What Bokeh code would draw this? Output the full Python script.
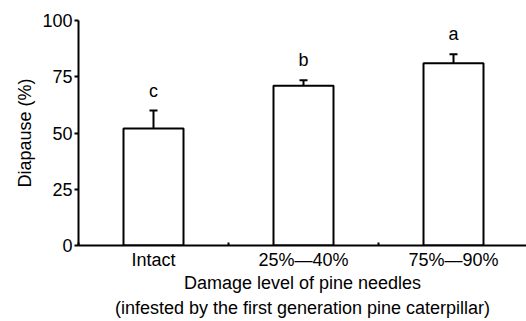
from bokeh.plotting import figure
from bokeh.models import ColumnDataSource, Range1d, FixedTicker, Whisker, TeeHead
from bokeh.core.properties import value
from bokeh.embed import file_html
from bokeh.resources import INLINE

categories = ["Intact", "25%\u201440%", "75%\u201490%"]
diapause = [52, 71, 81]
errors = [8, 2.5, 4]
letters = ["c", "b", "a"]
y_ticks = [0, 25, 50, 75, 100]
x_title = ["Damage level of pine needles",
           "(infested by the first generation pine caterpillar)"]
y_title = "Diapause (%)"

FONT = "Liberation Sans"
FS = "18px"

xs = [i + 0.5 for i in range(len(categories))]
tops = [v + e for v, e in zip(diapause, errors)]
src = ColumnDataSource(dict(x=xs, y=diapause, upper=tops, letter=letters,
                            ly=[t + 8.8 for t in tops]))

p = figure(width=526, height=321, output_backend="svg", toolbar_location=None,
           x_range=Range1d(0, 448 / 150), y_range=Range1d(0, 100),
           min_border_left=78, min_border_right=0, min_border_top=20, min_border_bottom=76)
p.outline_line_color = None
p.xgrid.visible = False
p.ygrid.visible = False
p.background_fill_color = "white"
p.border_fill_color = "white"

p.vbar(x="x", top="y", bottom=0, width=0.4, source=src, fill_color="white",
       line_color="black", line_width=2)

w = Whisker(base="x", lower="y", upper="upper", source=src, line_color="black",
            line_width=2, lower_head=None,
            upper_head=TeeHead(size=8, line_color="black", line_width=2))
p.add_layout(w)

p.text(x="x", y="ly", text="letter", source=src, text_align="center",
       text_baseline="alphabetic", text_font=value(FONT), text_font_size=FS,
       text_color="black")

# x axis
xa = p.xaxis[0]
xa.ticker = FixedTicker(ticks=xs, minor_ticks=[0, 1, 2])
xa.major_label_overrides = {x: c for x, c in zip(xs, categories)}
xa.major_tick_out = 0
xa.major_tick_in = 0
xa.minor_tick_in = 3
xa.minor_tick_out = 0
xa.minor_tick_line_width = 2
xa.minor_tick_line_color = "black"
xa.axis_line_width = 2
xa.axis_line_color = "black"
xa.major_label_standoff = 4
xa.major_label_text_font = FONT
xa.major_label_text_font_size = FS
xa.major_label_text_color = "black"
xa.axis_label = "\n".join(x_title)
xa.axis_label_text_font = FONT
xa.axis_label_text_font_size = FS
xa.axis_label_text_font_style = "normal"
xa.axis_label_text_color = "black"
xa.axis_label_text_line_height = 1.25
xa.axis_label_standoff = 0

# y axis
ya = p.yaxis[0]
ya.ticker = FixedTicker(ticks=y_ticks)
ya.minor_tick_line_color = None
ya.major_tick_out = 4
ya.major_tick_in = 0
ya.major_tick_line_width = 2
ya.major_tick_line_color = "black"
ya.axis_line_width = 2
ya.axis_line_color = "black"
ya.major_label_standoff = 2
ya.major_label_text_font = FONT
ya.major_label_text_font_size = FS
ya.major_label_text_color = "black"
ya.axis_label = y_title
ya.axis_label_text_font = FONT
ya.axis_label_text_font_size = FS
ya.axis_label_text_font_style = "normal"
ya.axis_label_text_color = "black"
ya.axis_label_standoff = 4

open("out.html", "w").write(file_html(p, INLINE))
